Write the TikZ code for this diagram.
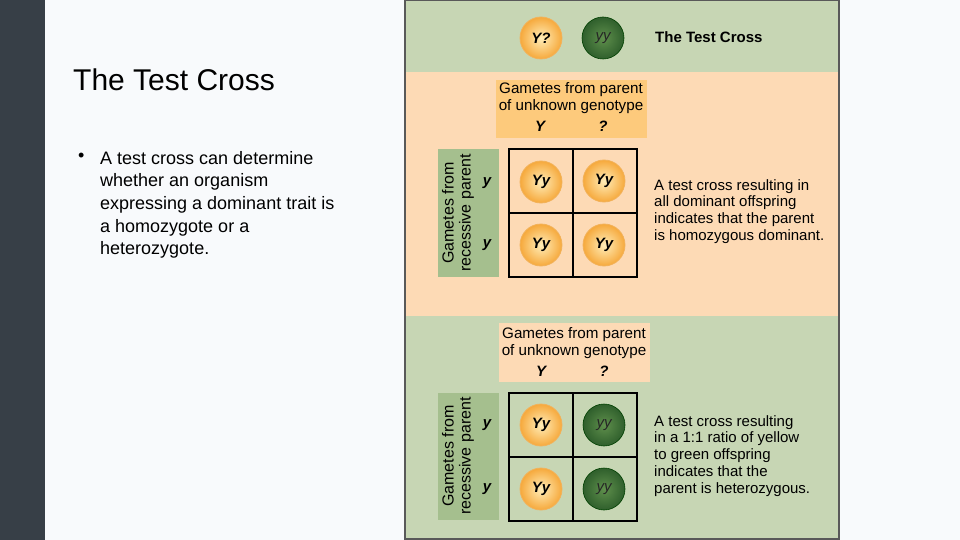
\documentclass[tikz,border=0pt]{standalone}
\usepackage{fontspec}
\setmainfont{Liberation Sans}
\begin{document}
\begin{tikzpicture}[x=1pt,y=-1pt,
  ybal/.style={circle,minimum size=42pt,inner sep=0pt,shading=radial,inner color=ballin,outer color=ballout,draw=ballrim,line width=0.8pt,font=\fontsize{15}{16}\selectfont\bfseries\itshape},
  gbal/.style={circle,minimum size=42pt,inner sep=0pt,shading=radial,inner color=gin,outer color=gout,draw=green!25!black,line width=0.6pt,font=\fontsize{15}{16}\selectfont\itshape,text=black!85},
  lbl/.style={font=\fontsize{15}{16}\selectfont\bfseries\itshape},
  body/.style={font=\fontsize{15}{16.8}\selectfont,align=left,anchor=north west,inner sep=0pt},
  grid/.style={draw=black,line width=1.4pt}]
\definecolor{darkbar}{HTML}{373F47}
\definecolor{pagebg}{HTML}{F8FAFC}
\definecolor{bandg}{HTML}{C7D6B4}
\definecolor{peach}{HTML}{FDDAB5}
\definecolor{orbox}{HTML}{FDCA7C}
\definecolor{gbox}{HTML}{A5BF8E}
\definecolor{ballin}{HTML}{FFEDB8}
\definecolor{ballout}{HTML}{F6A93C}
\definecolor{ballrim}{HTML}{F2B25A}
\definecolor{gin}{HTML}{5F8F4C}
\definecolor{gout}{HTML}{2F5F2C}
\useasboundingbox (0,0) rectangle (960,540);
\fill[pagebg] (0,0) rectangle (960,540);
\fill[darkbar] (0,0) rectangle (45,540);
\node[anchor=west,inner sep=0pt,font=\fontsize{30}{32}\selectfont] (title) at (73,80) {The Test Cross};
\node[anchor=west,inner sep=0pt,font=\fontsize{18}{20}\selectfont] (bul) at (78,157) {•};
\node[anchor=north west,inner sep=0pt,align=left,font=\fontsize{18}{22.6}\selectfont] (txt) at (100,151) {A test cross can determine\\whether an organism\\expressing a dominant trait is\\a homozygote or a\\heterozygote.};
% panel
\fill[bandg] (405,0) rectangle (839,72);
\fill[peach] (405,72) rectangle (839,316);
\fill[bandg] (405,316) rectangle (839,539);
\draw[gray!70!black,line width=1.5pt] (405,0) rectangle (839,539);
\node[ybal] (p1) at (541,38) {Y?};
\node[gbal] (p2) at (603,38) {yy};
\node[anchor=west,inner sep=0pt,font=\fontsize{15}{16}\selectfont\bfseries] (tc) at (655,37) {The Test Cross};
% top square
\fill[orbox] (496,80) rectangle (647,138);
\node[align=center,inner sep=0pt,font=\fontsize{15.2}{17}\selectfont] (g1) at (571,98) {Gametes from parent\\of unknown genotype};
\node[lbl] (a1) at (540,126) {Y};
\node[lbl] (b1) at (603,126) {?};
\fill[gbox] (438,149) rectangle (499,277);
\node[rotate=90,align=center,inner sep=0pt,font=\fontsize{16}{17}\selectfont] (r1) at (458,213) {Gametes from\\recessive parent};
\node[lbl] (c1) at (487,183) {y};
\node[lbl] (d1) at (487,245) {y};
\draw[grid] (509,149) rectangle (637,277) (573,149) -- (573,277) (509,213) -- (637,213);
\node[ybal] (o1) at (541,182) {Yy};
\node[ybal] (o2) at (604,181) {Yy};
\node[ybal] (o3) at (541,245) {Yy};
\node[ybal] (o4) at (604,245) {Yy};
\node[body] (t1) at (654,179) {A test cross resulting in\\all dominant offspring\\indicates that the parent\\is homozygous dominant.};
% bottom square
\fill[peach] (499,323) rectangle (650,382);
\node[align=center,inner sep=0pt,font=\fontsize{15.2}{17}\selectfont] (g2) at (574,343) {Gametes from parent\\of unknown genotype};
\node[lbl] (a2) at (541,371) {Y};
\node[lbl] (b2) at (604,371) {?};
\fill[gbox] (438,393) rectangle (499,520);
\node[rotate=90,align=center,inner sep=0pt,font=\fontsize{16}{17}\selectfont] (r2) at (458,456) {Gametes from\\recessive parent};
\node[lbl] (c2) at (487,425) {y};
\node[lbl] (d2) at (487,489) {y};
\draw[grid] (509,393) rectangle (637,521) (573,393) -- (573,521) (509,457) -- (637,457);
\node[ybal] (q1) at (541,425) {Yy};
\node[gbal] (q2) at (604,425) {yy};
\node[ybal] (q3) at (541,489) {Yy};
\node[gbal] (q4) at (604,489) {yy};
\node[body] (t2) at (654,415) {A test cross resulting\\in a 1:1 ratio of yellow\\to green offspring\\indicates that the\\parent is heterozygous.};
\end{tikzpicture}
\end{document}
